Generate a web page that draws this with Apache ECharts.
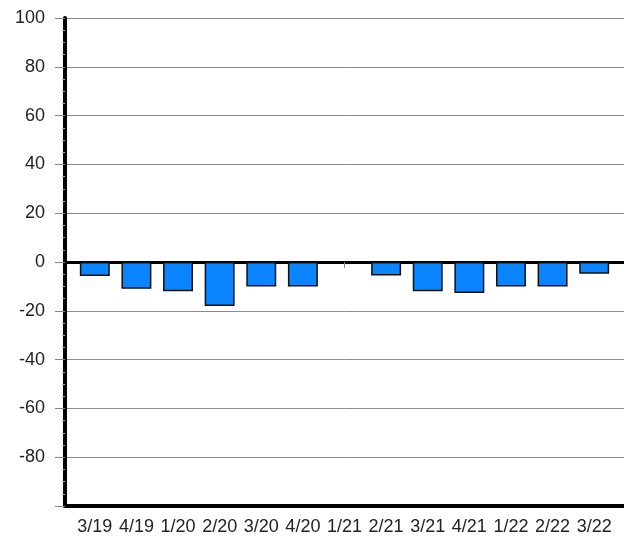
<!DOCTYPE html>
<html><head><meta charset="utf-8">
<script src="https://cdn.jsdelivr.net/npm/echarts@6/dist/echarts.min.js"></script>
<style>html,body{margin:0;padding:0;background:#fff}#c{width:624px;height:540px}</style>
</head><body><div id="c"></div>
<script>
const categories = ['3/19','4/19','1/20','2/20','3/20','4/20','1/21','2/21','3/21','4/21','1/22','2/22','3/22'];
const values = [-5.7, -11, -12, -18, -10, -10, null, -5.5, -12, -12.7, -10, -10, -4.8];
const yMin = -100, yMax = 100, yStep = 20;

const barData = categories.map((c, i) => [c, values[i]]).filter(d => d[1] !== null);

const chart = echarts.init(document.getElementById('c'), null, {renderer:'canvas'});
const font = 'Liberation Sans, Arial, sans-serif';
chart.setOption({
  animation:false,
  backgroundColor:'#fff',
  grid:[
    {left:65, top:18, right:0, height:488},
    {left:74, top:18, width:541, height:488}
  ],
  xAxis:[
    {type:'value', gridIndex:0, min:0, max:1, position:'bottom',
     axisLine:{show:true, onZero:false, lineStyle:{color:'#000', width:4}},
     axisTick:{show:false}, axisLabel:{show:false}, splitLine:{show:false}},
    {type:'value', gridIndex:0, min:0, max:1, position:'top',
     axisLine:{show:true, onZero:true, lineStyle:{color:'#000', width:3}},
     axisTick:{show:false}, axisLabel:{show:false}, splitLine:{show:false}},
    {type:'category', gridIndex:1, data:categories, boundaryGap:true,
     axisLine:{show:false},
     axisTick:{show:true, alignWithLabel:true, length:6, lineStyle:{color:'#888'}},
     axisLabel:{show:true, interval:0, margin:12, color:'#222', fontSize:18, fontFamily:font}}
  ],
  yAxis:[
    {type:'value', gridIndex:0, min:yMin, max:yMax, interval:yStep,
     axisLine:{show:true, lineStyle:{color:'#000', width:4}},
     axisTick:{show:true, length:10, lineStyle:{color:'#888'}},
     minorTick:{show:true, splitNumber:4, length:3, lineStyle:{color:'#aaa'}},
     axisLabel:{color:'#222', fontSize:18, fontFamily:font, margin:20,
       formatter:v => v === yMin ? '' : String(v)},
     splitLine:{show:true, lineStyle:{color:'#8a8a8a', width:1}}},
    {type:'value', gridIndex:1, min:yMin, max:yMax, interval:yStep, show:false}
  ],
  series:[
    {type:'bar', xAxisIndex:2, yAxisIndex:1, data:barData, barWidth:'72%',
     itemStyle:{color:'#0a84ff', borderColor:'#111', borderWidth:1.5}}
  ]
});
</script></body></html>
